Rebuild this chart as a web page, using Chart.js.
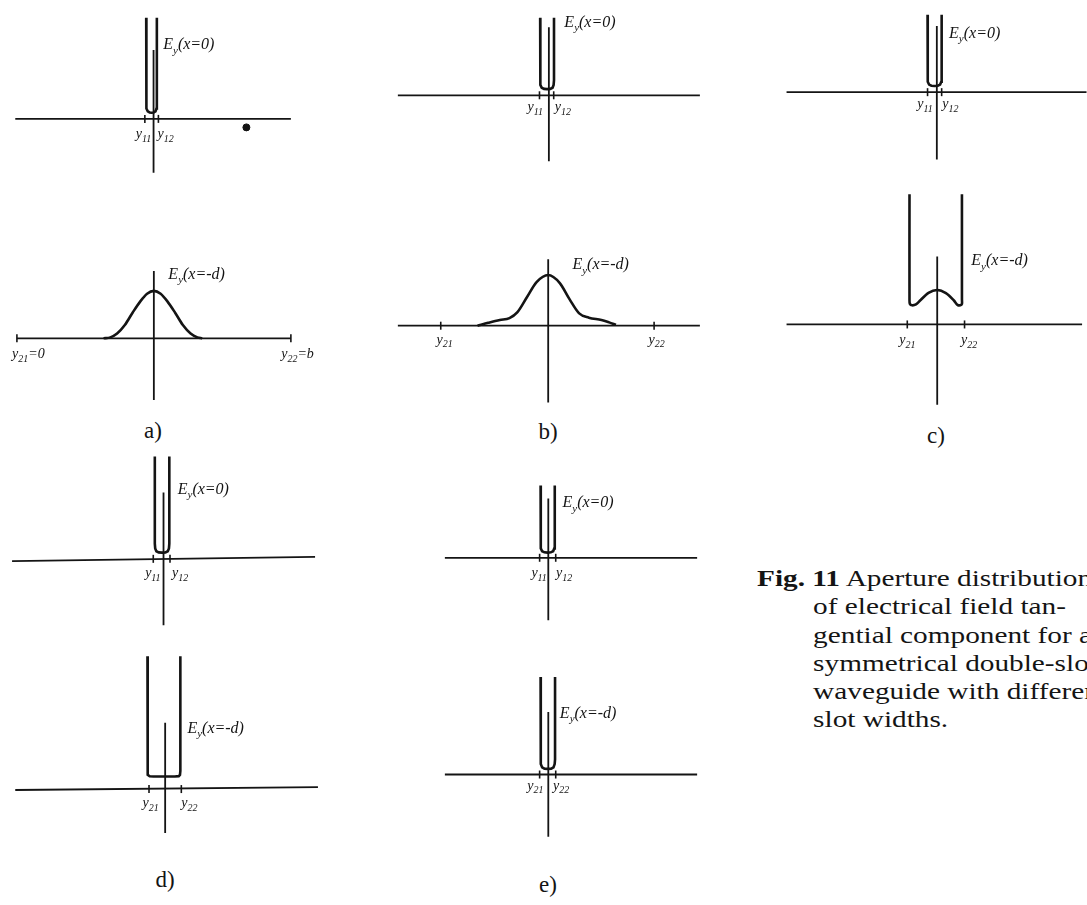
<!DOCTYPE html>
<html>
<head>
<meta charset="utf-8">
<script src="https://cdn.jsdelivr.net/npm/chart.js@4.4.1/dist/chart.umd.min.js"></script>
<style>
html, body { margin: 0; padding: 0; background: #fff; }
body { width: 1087px; height: 905px; position: relative; overflow: hidden; font-family: "Liberation Serif", serif; color: #141414; }
canvas { position: absolute; }
.cap { position: absolute; font-size: 23px; transform: translateX(-50%); }
#note { position: absolute; left: 757px; top: 564px; font-size: 24px; line-height: 28.3px; white-space: nowrap; transform: scaleX(1.22); transform-origin: 0 0; }
#note div { padding-left: 46px; }
#note div.first { padding-left: 0; }
</style>
</head>
<body>
<div class="cap" style="left:153px;top:418px">a)</div>
<div class="cap" style="left:548px;top:419px">b)</div>
<div class="cap" style="left:936px;top:423px">c)</div>
<div class="cap" style="left:165px;top:867px">d)</div>
<div class="cap" style="left:548px;top:872px">e)</div>
<div id="note">
  <div class="first"><b>Fig. 11</b> Aperture distribution</div>
  <div>of electrical field tan-</div>
  <div>gential component for a</div>
  <div>symmetrical double-slot</div>
  <div>waveguide with different</div>
  <div>slot widths.</div>
</div>
<script>
const INK = '#141414';

// units: 1 = slot-plane distance of the sketch, y = field amplitude
// a) narrow upper slot, full-width lower aperture
const aTopField = [[-0.076, 1.07], [-0.076, 0.16], [-0.072, 0.11], [-0.060, 0.08], [-0.040, 0.068], [-0.021, 0.065], [0.000, 0.068], [0.020, 0.08], [0.030, 0.11], [0.034, 0.16], [0.034, 1.07]];
const aTopTicks = [-0.09, 0.05];
const aTopTickLabels = ['y_{11}', 'y_{12}'];
const aTopSpeck = [[0.96, -0.09]];
const aBotField = [[-0.52, 0], [-0.45, 0.01], [-0.38, 0.05], [-0.30, 0.14], [-0.22, 0.27], [-0.14, 0.39], [-0.07, 0.47], [0, 0.50], [0.07, 0.47], [0.14, 0.39], [0.22, 0.27], [0.30, 0.14], [0.38, 0.05], [0.45, 0.01], [0.50, 0]];
const aBotTicks = [-1.416, 1.417];
const aBotTickLabels = ['y_{21}=0', 'y_{22}=b'];

// b)
const bTopField = [[-0.09, 0.82], [-0.09, 0.16], [-0.086, 0.11], [-0.074, 0.08], [-0.050, 0.068], [-0.018, 0.065], [0.014, 0.068], [0.038, 0.08], [0.049, 0.11], [0.053, 0.16], [0.053, 0.82]];
const bTopTicks = [-0.097, 0.05];
const bTopTickLabels = ['y_{11}', 'y_{12}'];
const bBotField = [[-0.73, 0.0], [-0.62, 0.03], [-0.50, 0.06], [-0.40, 0.08], [-0.32, 0.14], [-0.22, 0.30], [-0.12, 0.46], [0, 0.535], [0.12, 0.45], [0.22, 0.28], [0.32, 0.13], [0.42, 0.085], [0.55, 0.06], [0.63, 0.035], [0.70, 0.01]];
const bBotTicks = [-1.11, 1.094];
const bBotTickLabels = ['y_{21}', 'y_{22}'];

// c)
const cTopField = [[-0.096, 0.82], [-0.096, 0.16], [-0.092, 0.11], [-0.080, 0.08], [-0.056, 0.068], [-0.023, 0.065], [0.010, 0.068], [0.034, 0.08], [0.046, 0.11], [0.05, 0.16], [0.05, 0.82]];
const cTopTicks = [-0.096, 0.05];
const cTopTickLabels = ['y_{11}', 'y_{12}'];
const cBotField = [[-0.287, 1.36], [-0.287, 0.26], [-0.283, 0.215], [-0.26, 0.20], [-0.22, 0.21], [-0.177, 0.25], [-0.09, 0.33], [0, 0.36], [0.09, 0.327], [0.173, 0.25], [0.21, 0.205], [0.24, 0.20], [0.256, 0.215], [0.256, 0.26], [0.256, 1.36]];
const cBotTicks = [-0.31, 0.283];
const cBotTickLabels = ['y_{21}', 'y_{22}'];

// d)
const dTopField = [[-0.09, 1.08], [-0.09, 0.16], [-0.086, 0.11], [-0.074, 0.08], [-0.050, 0.068], [-0.015, 0.065], [0.020, 0.068], [0.044, 0.08], [0.056, 0.11], [0.06, 0.16], [0.06, 1.08]];
const dTopTicks = [-0.106, 0.067];
const dTopTickLabels = ['y_{11}', 'y_{12}'];
const dBotField = [[-0.183, 1.40], [-0.183, 0.19], [-0.178, 0.15], [-0.16, 0.135], [-0.12, 0.133], [0, 0.133], [0.10, 0.133], [0.14, 0.136], [0.153, 0.15], [0.157, 0.19], [0.157, 1.40]];
const dBotTicks = [-0.167, 0.167];
const dBotTickLabels = ['y_{21}', 'y_{22}'];

// e)
const eTopField = [[-0.08, 0.77], [-0.08, 0.15], [-0.076, 0.10], [-0.064, 0.07], [-0.040, 0.058], [-0.007, 0.055], [0.026, 0.058], [0.05, 0.07], [0.062, 0.10], [0.067, 0.15], [0.067, 0.77]];
const eTopTicks = [-0.09, 0.077];
const eTopTickLabels = ['y_{11}', 'y_{12}'];
const eBotField = [[-0.08, 1.03], [-0.08, 0.16], [-0.076, 0.11], [-0.064, 0.075], [-0.040, 0.062], [-0.005, 0.06], [0.030, 0.062], [0.054, 0.075], [0.066, 0.11], [0.07, 0.16], [0.07, 1.03]];
const eBotTicks = [-0.09, 0.077];
const eBotTickLabels = ['y_{21}', 'y_{22}'];

const noteTop = 'E_{y}(x=0)';
const noteBot = 'E_{y}(x=-d)';

// where each small sketch sits on the page (canvas box + origin in page px)
const panels = [
  { box: [0, 0, 340, 200], origin: [153, 120], axisX: [[-1.43, 0], [1.42, 0]], axisY: [0.73, -0.57],
    field: aTopField, ticks: aTopTicks, tickLabels: aTopTickLabels, labelAt: [[-0.025, -0.16, 'right'], [0.04, -0.16, 'left']],
    note: noteTop, noteAt: [0.10, 0.78], specks: aTopSpeck },
  { box: [0, 200, 340, 215], origin: [153.3, 340], axisX: [[-1.416, 0], [1.417, 0]], axisY: [0.71, -0.65],
    field: aBotField, mono: true, ticks: aBotTicks, tickLabels: aBotTickLabels, labelAt: [[-1.466, -0.17, 'left'], [1.317, -0.17, 'left']],
    note: noteBot, noteAt: [0.15, 0.67] },
  { box: [370, 0, 350, 200], origin: [549, 95], axisX: [[-1.56, 0], [1.56, 0]], axisY: [0.72, -0.70],
    field: bTopField, ticks: bTopTicks, tickLabels: bTopTickLabels, labelAt: [[-0.06, -0.13, 'right'], [0.06, -0.13, 'left']],
    note: noteTop, noteAt: [0.16, 0.77] },
  { box: [370, 200, 350, 215], origin: [548.3, 326.7], axisX: [[-1.553, 0], [1.567, 0]], axisY: [0.70, -0.81],
    field: bBotField, mono: true, ticks: bBotTicks, tickLabels: bBotTickLabels, labelAt: [[-1.07, -0.15, 'center'], [1.12, -0.15, 'center']],
    note: noteBot, noteAt: [0.25, 0.64] },
  { box: [760, 0, 327, 200], origin: [937.3, 91.7], axisX: [[-1.556, 0], [1.55, 0]], axisY: [0.70, -0.713],
    field: cTopField, ticks: cTopTicks, tickLabels: cTopTickLabels, labelAt: [[-0.043, -0.13, 'right'], [0.057, -0.13, 'left']],
    note: noteTop, noteAt: [0.127, 0.62] },
  { box: [760, 160, 327, 260], origin: [937.7, 326], axisX: [[-1.56, 0], [1.50, 0]], axisY: [0.71, -0.84],
    field: cBotField, tension: 0.3, ticks: cBotTicks, tickLabels: cBotTickLabels, labelAt: [[-0.31, -0.17, 'center'], [0.33, -0.17, 'center']],
    note: noteBot, noteAt: [0.353, 0.66] },
  { box: [0, 430, 340, 215], origin: [163.3, 560], axisX: [[-1.566, -0.025], [1.567, 0.02]], axisY: [0.70, -0.70],
    field: dTopField, ticks: dTopTicks, tickLabels: dTopTickLabels, labelAt: [[-0.03, -0.15, 'right'], [0.087, -0.15, 'left']],
    note: noteTop, noteAt: [0.147, 0.73] },
  { box: [0, 630, 340, 220], origin: [165, 791.7], axisX: [[-1.55, -0.01], [1.58, 0.02]], axisY: [0.70, -0.463],
    field: dBotField, ticks: dBotTicks, tickLabels: dBotTickLabels, labelAt: [[-0.15, -0.15, 'center'], [0.25, -0.15, 'center']],
    note: noteBot, noteAt: [0.23, 0.64] },
  { box: [420, 460, 310, 180], origin: [547.3, 558.3], axisX: [[-1.073, 0], [1.544, 0]], axisY: [0.633, -0.667],
    field: eTopField, ticks: eTopTicks, tickLabels: eTopTickLabels, labelAt: [[-0.015, -0.17, 'right'], [0.08, -0.17, 'left']],
    note: noteTop, noteAt: [0.147, 0.583] },
  { box: [420, 640, 310, 215], origin: [547.3, 776], axisX: [[-1.073, 0], [1.544, 0]], axisY: [0.66, -0.657],
    field: eBotField, ticks: eBotTicks, tickLabels: eBotTickLabels, labelAt: [[-0.05, -0.12, 'right'], [0.05, -0.12, 'left']],
    note: noteBot, noteAt: [0.12, 0.643] }
];

// text with _{...} subscripts, drawn in the sketch's hand-lettering style
function drawRich(ctx, text, x, y, size, align) {
  const parts = [];
  text.replace(/_\{([^}]*)\}|([^_]+)/g, (m, sub, norm) => {
    parts.push(sub !== undefined ? { t: sub, sub: true } : { t: norm, sub: false });
  });
  const fontFor = p => 'italic ' + (p.sub ? Math.round(size * 0.68) : size) + 'px "Liberation Serif", serif';
  let total = 0;
  parts.forEach(p => { ctx.font = fontFor(p); p.w = ctx.measureText(p.t).width; total += p.w; });
  let cx = x;
  if (align === 'right') cx = x - total;
  if (align === 'center') cx = x - total / 2;
  ctx.textAlign = 'left';
  ctx.textBaseline = 'middle';
  ctx.fillStyle = INK;
  parts.forEach(p => {
    ctx.font = fontFor(p);
    ctx.fillText(p.t, cx, p.sub ? y + size * 0.35 : y);
    cx += p.w;
  });
}

function drawPanel(p) {
  const [left, top, w, h] = p.box;
  const ox = p.origin[0] - left;
  const oy = p.origin[1] - top;
  const canvas = document.createElement('canvas');
  canvas.width = w;
  canvas.height = h;
  canvas.style.left = left + 'px';
  canvas.style.top = top + 'px';
  document.body.appendChild(canvas);

  const toXY = pts => pts.map(([x, y]) => ({ x: x, y: y }));
  const datasets = [
    { data: toXY(p.axisX), borderWidth: 1.8 },
    { data: p.axisY.map(y => ({ x: 0, y: y })), borderWidth: 1.8 },
    { data: p.ticks.map(x => ({ x: x, y: 0 })), showLine: false, pointStyle: 'line', pointRotation: 90, pointRadius: 4, pointBorderWidth: 1.6 },
    { data: toXY(p.field), borderWidth: 2.6, tension: p.mono ? 0.4 : (p.tension || 0), cubicInterpolationMode: p.mono ? 'monotone' : 'default' }
  ];
  if (p.specks) {
    datasets.push({ data: toXY(p.specks), showLine: false, pointRadius: 3.5, pointBackgroundColor: INK });
  }
  datasets.forEach(d => {
    d.borderColor = INK;
    d.pointBorderColor = INK;
    d.clip = false;
    if (d.pointRadius === undefined) d.pointRadius = 0;
  });

  new Chart(canvas, {
    type: 'line',
    data: { datasets: datasets },
    options: {
      responsive: false,
      animation: false,
      events: [],
      layout: { padding: 0 },
      plugins: { legend: { display: false }, tooltip: { enabled: false } },
      scales: {
        x: { type: 'linear', display: false, min: -ox / 100, max: (w - ox) / 100 },
        y: { type: 'linear', display: false, min: -(h - oy) / 100, max: oy / 100 }
      }
    },
    plugins: [{
      id: 'sketchText',
      afterDatasetsDraw(chart) {
        const ctx = chart.ctx;
        const sx = chart.scales.x, sy = chart.scales.y;
        ctx.save();
        p.tickLabels.forEach((lab, i) => {
          const [lx, ly, al] = p.labelAt[i];
          drawRich(ctx, lab, sx.getPixelForValue(lx), sy.getPixelForValue(ly), 14, al);
        });
        drawRich(ctx, p.note, sx.getPixelForValue(p.noteAt[0]), sy.getPixelForValue(p.noteAt[1]), 16, 'left');
        ctx.restore();
      }
    }]
  });
}

panels.forEach(drawPanel);
</script>
</body>
</html>
